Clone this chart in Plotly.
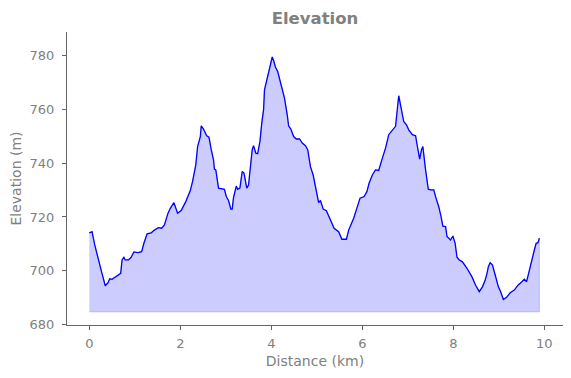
import plotly.graph_objects as go

distance_km = [0.00, 0.06, 0.12, 0.18, 0.23, 0.26, 0.30, 0.35, 0.41, 0.45, 0.50, 0.59, 0.69, 0.72,
               0.76, 0.79, 0.86, 0.92, 0.98, 1.07, 1.15, 1.20, 1.27, 1.36, 1.43, 1.52, 1.59, 1.65,
               1.73, 1.78, 1.86, 1.94, 2.02, 2.12, 2.22, 2.27, 2.31, 2.34, 2.38, 2.44, 2.46, 2.51,
               2.58, 2.63, 2.68, 2.73, 2.75, 2.78, 2.84, 2.91, 2.97, 3.01, 3.06, 3.11, 3.14, 3.17,
               3.20, 3.23, 3.26, 3.31, 3.36, 3.40, 3.46, 3.50, 3.53, 3.58, 3.61, 3.66, 3.70, 3.75,
               3.79, 3.83, 3.85, 3.92, 3.98, 4.02, 4.05, 4.09, 4.14, 4.21, 4.29, 4.35, 4.38, 4.43,
               4.49, 4.55, 4.62, 4.68, 4.75, 4.80, 4.86, 4.92, 4.97, 5.00, 5.04, 5.08, 5.14, 5.21,
               5.30, 5.38, 5.48, 5.55, 5.65, 5.70, 5.81, 5.88, 5.95, 6.04, 6.10, 6.15, 6.22, 6.29,
               6.36, 6.44, 6.51, 6.58, 6.66, 6.73, 6.80, 6.86, 6.91, 6.97, 7.02, 7.10, 7.17, 7.21,
               7.26, 7.30, 7.33, 7.39, 7.45, 7.50, 7.57, 7.62, 7.68, 7.73, 7.77, 7.83, 7.86, 7.94,
               7.99, 8.04, 8.08, 8.13, 8.20, 8.30, 8.41, 8.49, 8.57, 8.64, 8.70, 8.74, 8.77, 8.81,
               8.86, 8.92, 8.99, 9.04, 9.10, 9.17, 9.25, 9.34, 9.42, 9.50, 9.56, 9.61, 9.66, 9.72,
               9.78, 9.82, 9.86, 9.89]
elevation_m = [714.1, 714.5, 709.6, 705.2, 702.1, 700.2, 697.7, 694.4, 695.5, 697.0, 696.8, 697.7, 699.0, 704.0,
               705.0, 704.0, 704.0, 705.0, 707.0, 706.7, 707.1, 710.2, 713.7, 714.1, 715.1, 716.0, 715.8, 717.0,
               721.4, 723.2, 725.3, 721.4, 722.4, 725.7, 729.8, 733.2, 736.9, 739.4, 746.2, 749.9, 753.9, 752.7,
               750.2, 749.7, 745.0, 741.2, 737.8, 737.5, 730.7, 730.4, 730.3, 727.6, 726.1, 722.9, 722.9, 727.3,
               730.1, 731.5, 730.3, 730.7, 736.9, 736.3, 730.7, 731.9, 736.9, 745.0, 746.5, 743.7, 743.5, 748.1,
               754.9, 759.9, 767.3, 772.3, 776.6, 779.5, 778.2, 775.8, 774.1, 769.8, 764.2, 758.0, 753.9, 752.7,
               749.9, 749.0, 749.0, 747.5, 746.5, 745.0, 738.7, 735.6, 731.3, 728.2, 725.3, 726.1, 722.9, 722.3,
               718.9, 715.8, 714.5, 711.7, 711.7, 715.1, 719.5, 723.2, 727.0, 727.6, 729.4, 732.6, 735.6, 737.5,
               737.3, 741.9, 745.6, 750.6, 752.4, 753.7, 765.1, 759.2, 755.5, 754.3, 752.4, 750.6, 750.2, 746.2,
               741.5, 745.0, 746.2, 737.5, 730.3, 730.1, 730.1, 727.0, 723.8, 720.1, 716.6, 716.4, 712.7, 711.4,
               712.9, 710.2, 705.0, 704.0, 703.3, 700.9, 697.7, 694.6, 692.2, 694.0, 696.5, 699.0, 701.5, 703.0,
               702.1, 698.4, 694.0, 692.2, 689.3, 690.1, 691.8, 692.8, 694.6, 695.8, 696.8, 695.9, 699.6, 704.0,
               707.7, 710.2, 710.4, 712.1]
fill_base_m = 684.7
x_ticks = [0, 2, 4, 6, 8, 10]
y_ticks = [680, 700, 720, 740, 760, 780]

gray = "#808080"
axis_gray = "#666666"
font_family = "DejaVu Sans"

poly_x = distance_km + distance_km[::-1]
poly_y = elevation_m + [fill_base_m] * len(distance_km)

fig = go.Figure()
fig.add_trace(go.Scatter(
    x=poly_x, y=poly_y, mode="lines", fill="toself",
    fillcolor="rgba(0,0,255,0.2)", line=dict(color="rgba(0,0,255,0.2)", width=1),
    hoverinfo="skip", showlegend=False))
fig.add_trace(go.Scatter(
    x=distance_km, y=elevation_m, mode="lines",
    line=dict(color="blue", width=1.3), showlegend=False))

# page body has an 8px margin, so offsets are compensated in the margins
fig.update_layout(
    width=571, height=378,
    margin=dict(l=59, r=16, t=24, b=61),
    paper_bgcolor="white", plot_bgcolor="white",
    font=dict(family=font_family, color=gray, size=13),
    title=dict(text="<b>Elevation</b>", x=(59 + 555) / 2 / 571, xanchor="center",
               y=1 - 10 / 378, yanchor="middle", font=dict(size=16.5, color=gray)),
    xaxis=dict(range=[-0.49, 10.41], tickvals=x_ticks, showgrid=False, zeroline=False,
               showline=True, linecolor=axis_gray, linewidth=1, ticks="outside", ticklen=4,
               tickcolor=axis_gray, automargin=False, ticklabelstandoff=2,
               title=dict(text="Distance (km)", standoff=6, font=dict(size=14, color=gray)),
               tickfont=dict(size=13, color=gray)),
    yaxis=dict(range=[679.8, 788.8], tickvals=y_ticks, showgrid=False, zeroline=False,
               showline=True, linecolor=axis_gray, linewidth=1, ticks="outside", ticklen=4,
               tickcolor=axis_gray, automargin=False, ticklabelstandoff=5,
               title=dict(text="Elevation (m)", standoff=4, font=dict(size=14, color=gray)),
               tickfont=dict(size=13, color=gray)),
)

fig.write_html("out.html")
